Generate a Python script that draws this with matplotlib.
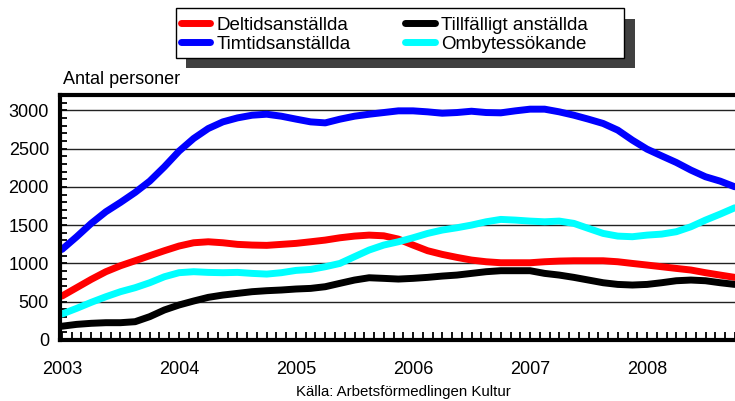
import matplotlib.pyplot as plt
from matplotlib.patches import Rectangle
import numpy as np

plt.rcParams['font.family'] = ['Liberation Sans', 'DejaVu Sans']

# months since Jan 2003, every 1.5 months
months = np.arange(0, 69.1, 1.5)
years = 2003 + months / 12.0

deltid = [574, 683, 792, 892, 970, 1035, 1101, 1166, 1227, 1270,
          1283, 1270, 1249, 1240, 1236, 1249, 1262, 1283, 1305, 1335,
          1357, 1370, 1361, 1318, 1240, 1166, 1118, 1079, 1044, 1022,
          1009, 1009, 1009, 1022, 1031, 1035, 1035, 1035, 1022, 1000,
          979, 957, 935, 914, 879, 848, 818]
timtid = [1183, 1348, 1523, 1675, 1797, 1927, 2075, 2262, 2466, 2632,
          2762, 2849, 2901, 2936, 2949, 2923, 2885, 2849, 2836, 2884,
          2923, 2949, 2971, 2993, 2993, 2980, 2962, 2971, 2988, 2971,
          2967, 2993, 3015, 3015, 2980, 2936, 2884, 2828, 2741, 2610,
          2493, 2405, 2319, 2219, 2132, 2075, 2001]
tillfalligt = [180, 204, 218, 226, 226, 239, 305, 392, 457, 509,
               557, 587, 609, 631, 644, 653, 666, 674, 696, 740,
               783, 813, 805, 796, 805, 818, 835, 848, 870, 892,
               905, 905, 905, 870, 848, 818, 783, 748, 726, 718,
               726, 748, 774, 783, 774, 748, 726]
ombytes = [339, 413, 492, 565, 631, 683, 748, 826, 879, 892,
           883, 879, 883, 870, 861, 879, 909, 922, 957, 1000,
           1088, 1175, 1240, 1283, 1335, 1392, 1436, 1466, 1501, 1544,
           1575, 1566, 1553, 1544, 1553, 1523, 1457, 1392, 1357, 1349,
           1370, 1383, 1414, 1479, 1566, 1644, 1727]

year_ticks = [2003, 2004, 2005, 2006, 2007, 2008]

W, H = 735, 401
fig = plt.figure(figsize=(W / 100, H / 100), dpi=100)
ax = fig.add_axes([60 / W, 1 - 340 / H, 1 - 60 / W, (340 - 95) / H])

lw = 5
ax.plot(years, deltid, color='#ff0000', lw=lw, solid_capstyle='round', label='Deltidsanställda')
ax.plot(years, timtid, color='#0000ff', lw=lw, solid_capstyle='round', label='Timtidsanställda')
ax.plot(years, tillfalligt, color='#000000', lw=lw, solid_capstyle='round', label='Tillfälligt anställda')
ax.plot(years, ombytes, color='#00ffff', lw=lw, solid_capstyle='round', label='Ombytessökande')

ax.set_xlim(2002.983, 2008.752)
ax.set_ylim(0, 3200)

ax.set_yticks(np.arange(0, 3001, 500))
ax.set_yticks(np.arange(0, 3201, 100), minor=True)
ax.set_xticks(year_ticks)
ax.set_xticklabels([str(y) for y in year_ticks])
ax.set_xticks(2003 + np.arange(0, 70) / 12.0, minor=True)

ax.grid(axis='y', which='major', color='#222222', lw=1)
ax.set_axisbelow(True)

ax.tick_params(axis='both', which='both', direction='in', width=1.3, labelsize=13)
ax.tick_params(axis='x', which='both', length=6, pad=15, top=False)
ax.tick_params(axis='y', which='both', length=5, pad=8, right=False)

for s in ['left', 'bottom', 'top']:
    ax.spines[s].set_linewidth(3)
ax.spines['right'].set_visible(False)

fig.text(63 / W, 1 - 80 / H, 'Antal personer', fontsize=13, va='center', ha='left')
fig.text(403 / W, 1 - 392 / H, 'Källa: Arbetsförmedlingen Kultur', fontsize=10.8,
         va='center', ha='center')

# legend box with dark drop shadow
fig.patches.append(Rectangle((186 / W, 1 - 68.3 / H), (634.5 - 186) / W, (68.3 - 19) / H,
                             transform=fig.transFigure, facecolor='#404040',
                             edgecolor='none', zorder=1))
fig.patches.append(Rectangle((175.7 / W, 1 - 58.3 / H), (624 - 175.7) / W, 50 / H,
                             transform=fig.transFigure, facecolor='white',
                             edgecolor='black', lw=1, zorder=2))
leg = fig.legend(loc='upper left', bbox_to_anchor=(175 / W, 1 - 11 / H), ncol=2,
                 fontsize=13.5, handlelength=1.57, handletextpad=0.35, columnspacing=2.9,
                 labelspacing=0.1, borderpad=0.3, borderaxespad=0, frameon=False)
leg.set_zorder(3)

fig.savefig('out.png', dpi=100)
